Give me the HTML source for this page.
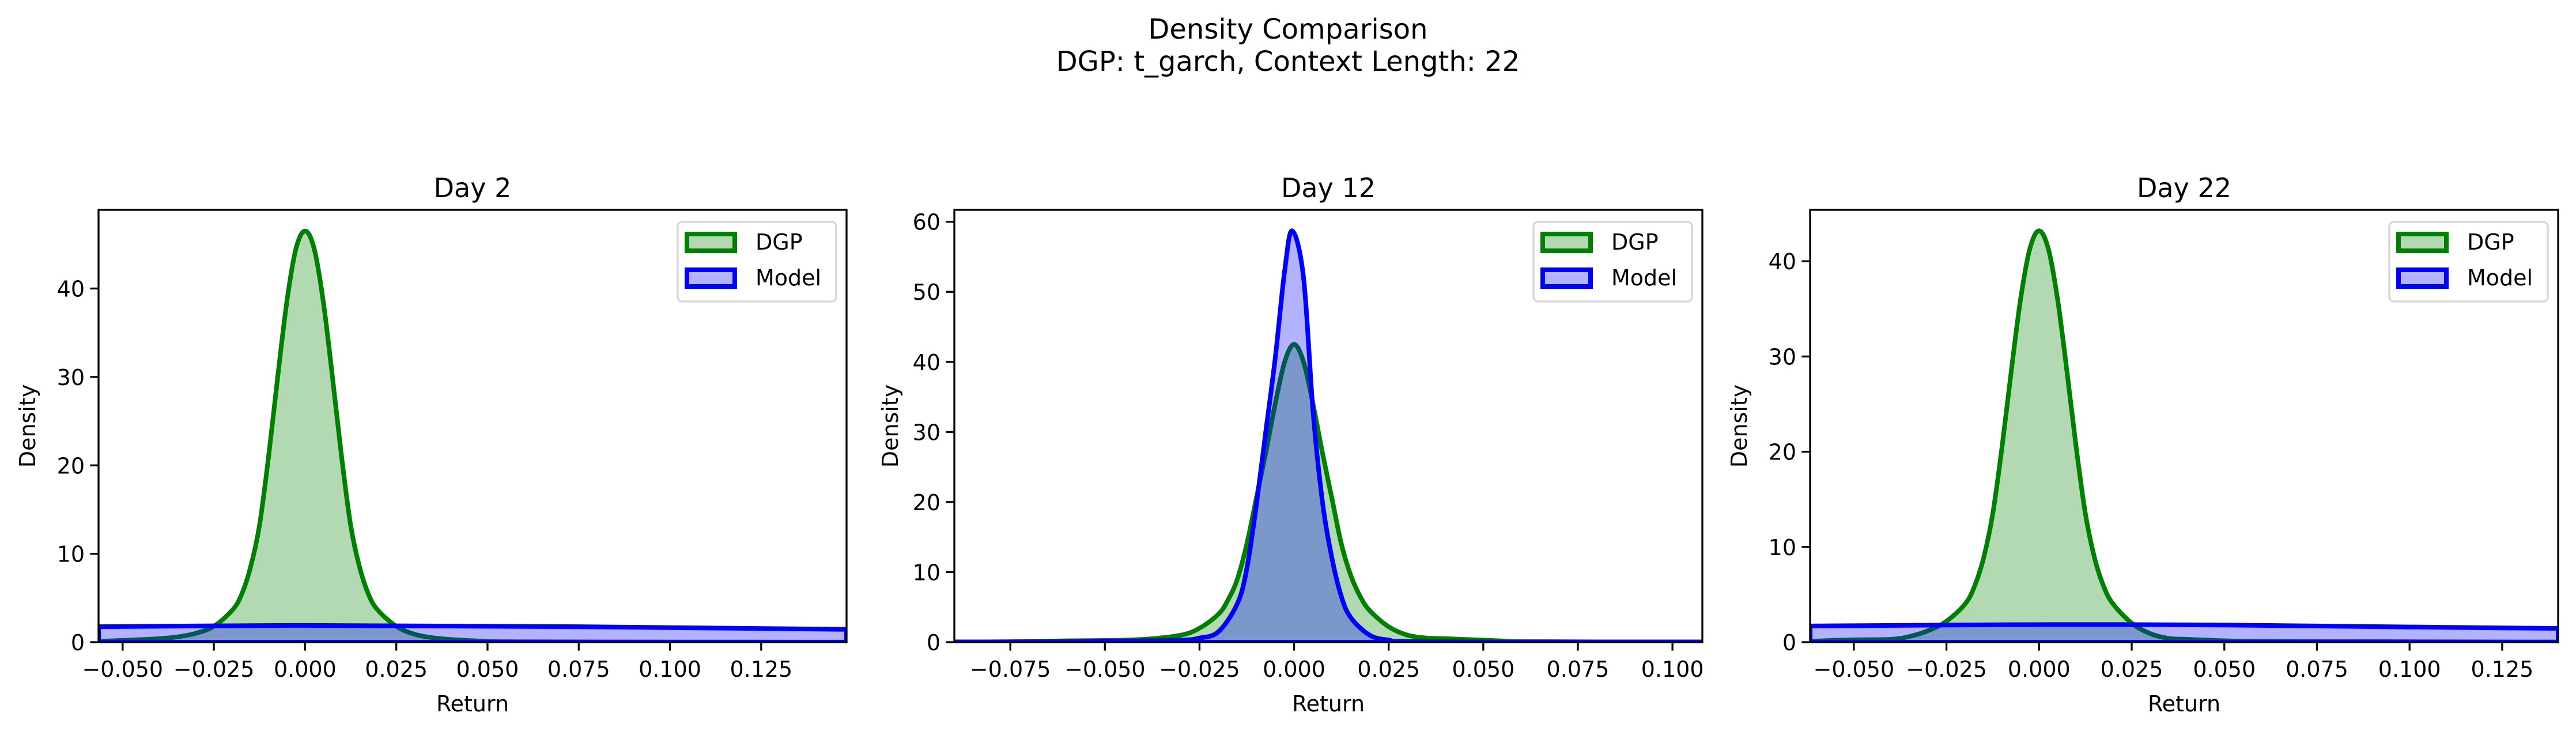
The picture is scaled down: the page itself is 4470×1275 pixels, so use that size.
<!DOCTYPE html>
<html><head><meta charset="utf-8">
<style>
html,body{margin:0;padding:0;background:#fff;}
svg{display:block;font-family:"DejaVu Sans","Liberation Sans",sans-serif;}
</style></head>
<body>
<svg id="fig" width="4470" height="1275" viewBox="0 0 4470 1275" xmlns="http://www.w3.org/2000/svg">
<rect width="4470" height="1275" fill="#fff"/>
<text x="2235" y="67" font-size="48" text-anchor="middle">Density Comparison</text>
<text x="2235" y="123" font-size="48" text-anchor="middle">DGP: t_garch, Context Length: 22</text>
</svg>
<script>
// ---- Panel 1 (Day 2) ----
const p1DgpX = [-0.0566,-0.05,-0.04,-0.035,-0.03,-0.025,-0.02,-0.0175,-0.015,-0.0125,-0.01,-0.0075,-0.005,-0.0025,0,0.0025,0.005,0.0075,0.01,0.0125,0.015,0.0175,0.02,0.025,0.03,0.035,0.04,0.05,0.06,0.1,0.1484];
const p1DgpY = [0.1,0.2,0.4,0.6,1.0,1.8,3.6,5.3,8.4,13.2,21,30,38.5,44.5,46.5,44.5,38.5,30,21,13.2,8.4,5.3,3.6,1.8,0.9,0.5,0.3,0.1,0.05,0.02,0.01];
const p1ModelX = [-0.0566,-0.025,0,0.025,0.05,0.075,0.1,0.125,0.1484];
const p1ModelY = [1.75,1.85,1.9,1.85,1.8,1.75,1.65,1.55,1.45];
// ---- Panel 2 (Day 12) ----
const p2DgpX = [-0.09,-0.075,-0.06,-0.05,-0.04,-0.03,-0.025,-0.02,-0.0175,-0.015,-0.0125,-0.01,-0.0075,-0.005,-0.0025,0,0.0025,0.005,0.0075,0.01,0.0125,0.015,0.0175,0.02,0.025,0.03,0.035,0.04,0.05,0.06,0.08,0.108];
const p2DgpY = [0.05,0.05,0.2,0.25,0.4,1.0,2.0,4.0,6.0,9.0,14,20.5,27,34,40,42.5,40,34,27,20.5,14,9.5,6.5,4.5,2.2,1.0,0.6,0.5,0.3,0.1,0.05,0.05];
const p2ModelX = [-0.09,-0.05,-0.03,-0.025,-0.02,-0.015,-0.0125,-0.01,-0.0075,-0.005,-0.0025,-0.0005,0.0025,0.005,0.0075,0.01,0.0125,0.015,0.02,0.025,0.03,0.06,0.108];
const p2ModelY = [0.02,0.15,0.3,0.6,1.5,5.5,10.5,19.5,30,40.5,53,58.7,52,33,20,12,6.5,3.5,1.0,0.3,0.1,0.0,0.0];
// ---- Panel 3 (Day 22) ----
const p3DgpX = [-0.0618,-0.05,-0.04,-0.035,-0.03,-0.025,-0.02,-0.0175,-0.015,-0.0125,-0.01,-0.0075,-0.005,-0.0025,0,0.0025,0.005,0.0075,0.01,0.0125,0.015,0.0175,0.02,0.025,0.03,0.035,0.04,0.05,0.06,0.1,0.1401];
const p3DgpY = [0.1,0.25,0.3,0.6,1.2,2.2,4.0,5.8,8.8,13.5,20.5,28.5,36,41.3,43.2,41.3,36,28.5,20.5,13.5,8.8,5.8,4.0,2.0,0.9,0.4,0.3,0.15,0.1,0.05,0.02];
const p3ModelX = [-0.0618,-0.025,0,0.025,0.05,0.075,0.1,0.125,0.1401];
const p3ModelY = [1.7,1.8,1.85,1.85,1.8,1.7,1.6,1.5,1.45];

const dayTitles = ["Day 2","Day 12","Day 22"];
const xDomains = [[-0.0566,0.1484],[-0.0898,0.1079],[-0.0618,0.1401]];
const yMaxes = [48.9,61.7,45.4];
const xTickVals = [[-0.05,-0.025,0,0.025,0.05,0.075,0.1,0.125],[-0.075,-0.05,-0.025,0,0.025,0.05,0.075,0.1],[-0.05,-0.025,0,0.025,0.05,0.075,0.1,0.125]];
const yTickVals = [[0,10,20,30,40],[0,10,20,30,40,50,60],[0,10,20,30,40]];

const NS="http://www.w3.org/2000/svg";
const svg=document.getElementById('fig');
const lefts=[171,1656,3141], W=1298, TOP=364, BOT=1114, FS=38;
const series=[[p1DgpX,p1DgpY,p1ModelX,p1ModelY],[p2DgpX,p2DgpY,p2ModelX,p2ModelY],[p3DgpX,p3DgpY,p3ModelX,p3ModelY]];
function mk(tag,attrs,parent){const e=document.createElementNS(NS,tag);for(const k in attrs)e.setAttribute(k,attrs[k]);(parent||svg).appendChild(e);return e;}
function fmt(v){if(Math.abs(v)<1e-9)return "0.000";return (v<0?"\u2212":"")+Math.abs(v).toFixed(3);}
function smooth(pts){let d="M"+pts[0][0]+","+pts[0][1];for(let i=0;i<pts.length-1;i++){const p0=pts[Math.max(0,i-1)],p1=pts[i],p2=pts[i+1],p3=pts[Math.min(pts.length-1,i+2)];
const c1x=p1[0]+(p2[0]-p0[0])/6,c1y=p1[1]+(p2[1]-p0[1])/6,c2x=p2[0]-(p3[0]-p1[0])/6,c2y=p2[1]-(p3[1]-p1[1])/6;
d+=" C"+c1x+","+c1y+" "+c2x+","+c2y+" "+p2[0]+","+p2[1];}return d;}

for(let p=0;p<3;p++){
  const L=lefts[p],R=L+W,[x0,x1]=xDomains[p],ym=yMaxes[p];
  const sx=v=>L+(v-x0)/(x1-x0)*W, sy=v=>BOT-v/ym*(BOT-TOP);
  const g=mk('g',{});
  
  
  const cp=mk('clipPath',{id:'clip'+p},g); mk('rect',{x:L,y:TOP,width:W,height:BOT-TOP},cp);
  const plot=mk('g',{'clip-path':'url(#clip'+p+')'},g);
  const s=series[p];
  const cols=[['green','dgp'],['blue','model']];
  for(let k=0;k<2;k++){
    const xs=s[k*2],ys=s[k*2+1];
    const pts=xs.map((v,i)=>[sx(v),sy(ys[i])]);
    let d=smooth(pts)+" L"+sx(xs[xs.length-1])+","+sy(0)+" L"+sx(xs[0])+","+sy(0)+" Z";
    const path=mk('path',{d:d,fill:cols[k][0],'fill-opacity':0.3,stroke:cols[k][0],'stroke-width':8,'stroke-linejoin':'round'},plot);
    
    
  }
  xTickVals[p].forEach(v=>{const x=sx(v);
    mk('line',{x1:x,y1:BOT,x2:x,y2:BOT+14.6,stroke:'#000','stroke-width':3.3},g);
    const t=mk('text',{x:x,y:1174,'font-size':FS,'text-anchor':'middle'},g);t.textContent=fmt(v);
    
    });
  yTickVals[p].forEach(v=>{const y=sy(v);
    mk('line',{x1:L,y1:y,x2:L-14.6,y2:y,stroke:'#000','stroke-width':3.3},g);
    const t=mk('text',{x:L-24,y:y+14,'font-size':FS,'text-anchor':'end'},g);t.textContent=String(v);
    
    });
  const frame=mk('rect',{x:L,y:TOP,width:W,height:BOT-TOP,fill:'none',stroke:'#000','stroke-width':3.3},g);
  
  
  const tt=mk('text',{x:L+W/2,y:342,'font-size':46,'text-anchor':'middle'},g);tt.textContent=dayTitles[p];
  
  
  const xl=mk('text',{x:L+W/2,y:1234,'font-size':FS,'text-anchor':'middle'},g);xl.textContent='Return';
  
  
  const ylx=L-(p===1?98:110);
  const yl=mk('text',{x:ylx,y:(TOP+BOT)/2,'font-size':FS,'text-anchor':'middle',transform:'rotate(-90 '+ylx+' '+(TOP+BOT)/2+')'},g);yl.textContent='Density';
  
  
  const lg=mk('g',{},g);
  
  
  const lx=R-293;
  mk('rect',{x:lx,y:385,width:275,height:138,rx:8,fill:'#fff','fill-opacity':0.8,stroke:'#d6d6d6','stroke-width':3.3},lg);
  [['green','DGP',406],['blue','Model',468]].forEach(e=>{
    const ent=mk('g',{},lg);
    
    
    mk('rect',{x:lx+16,y:e[2],width:83,height:29,fill:e[0],'fill-opacity':0.3,stroke:e[0],'stroke-width':8},ent);
    const t=mk('text',{x:lx+135,y:e[2]+27,'font-size':FS},ent);t.textContent=e[1];
  });
}
</script>
</body></html>
